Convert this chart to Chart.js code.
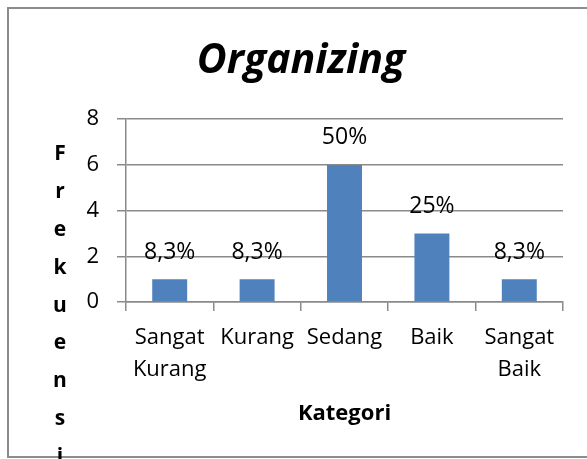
<!DOCTYPE html>
<html>
<head>
<meta charset="utf-8">
<script src="https://cdn.jsdelivr.net/npm/chart.js@4.4.1/dist/chart.umd.min.js"></script>
<style>
  html, body { margin: 0; padding: 0; background: #fff; }
  #wrap { position: relative; width: 587px; height: 459px; }
</style>
</head>
<body>
<div id="wrap"><canvas id="chart" width="587" height="459"></canvas></div>
<script>
"use strict";

// data
var categories = [['Sangat', 'Kurang'], 'Kurang', 'Sedang', 'Baik', ['Sangat', 'Baik']];
var frekuensi = [1, 1, 6, 3, 1];
var persen = ['8,3%', '8,3%', '50%', '25%', '8,3%'];
var yMin = 0, yMax = 8, yStep = 2;
var judul = 'Organizing';
var yJudul = 'Frekuensi';
var xJudul = 'Kategori';

var FONT = "'Open Sans', sans-serif";

// outer frame (left, top and bottom edge only)
var framePlugin = {
    id: 'frame',
    beforeDraw: function (chart) {
        var ctx = chart.ctx;
        ctx.save();
        ctx.strokeStyle = '#8c8c8c';
        ctx.lineWidth = 2;
        ctx.beginPath();
        ctx.moveTo(587, 8);
        ctx.lineTo(8, 8);
        ctx.lineTo(8, 457);
        ctx.lineTo(587, 457);
        ctx.stroke();
        ctx.restore();
    }
};

// value labels above the bars
var labelPlugin = {
    id: 'barLabels',
    afterDatasetsDraw: function (chart) {
        var ctx = chart.ctx;
        var meta = chart.getDatasetMeta(0);
        ctx.save();
        ctx.font = '23px ' + FONT;
        ctx.fillStyle = '#000';
        ctx.textAlign = 'center';
        ctx.textBaseline = 'middle';
        meta.data.forEach(function (bar, i) {
            ctx.fillText(persen[i], bar.x, bar.y - 27);
        });
        ctx.restore();
    }
};

// y axis title, one letter per line
var yTitlePlugin = {
    id: 'yTitle',
    afterDraw: function (chart) {
        var ctx = chart.ctx;
        ctx.save();
        ctx.font = 'bold 21px ' + FONT;
        ctx.fillStyle = '#000';
        ctx.textAlign = 'center';
        ctx.textBaseline = 'middle';
        var letters = yJudul.split('');
        for (var i = 0; i < letters.length; i++) {
            ctx.fillText(letters[i], 60, 154 + i * 37.9);
        }
        ctx.restore();
    }
};

new Chart(document.getElementById('chart'), {
    type: 'bar',
    data: {
        labels: categories,
        datasets: [{
            data: frekuensi,
            backgroundColor: '#4f81bd',
            borderWidth: 0,
            barPercentage: 0.4,
            categoryPercentage: 1
        }]
    },
    options: {
        responsive: false,
        animation: false,
        devicePixelRatio: 1,
        layout: { padding: { left: 39, right: 24, top: 10, bottom: 0 } },
        plugins: {
            legend: { display: false },
            tooltip: { enabled: false },
            title: {
                display: true,
                text: judul,
                color: '#000',
                font: { family: FONT, size: 41, weight: 'bold', style: 'italic', lineHeight: 1.2 },
                padding: { top: 27, bottom: 33 }
            }
        },
        scales: {
            x: {
                afterFit: function (scale) { scale.height = 157; },
                grid: { drawOnChartArea: false, drawTicks: true, tickLength: 9, color: '#8a8a8a', lineWidth: 1.5 },
                border: { display: true, color: '#8a8a8a', width: 1.5 },
                ticks: {
                    color: '#000',
                    padding: 11,
                    maxRotation: 0,
                    autoSkip: false,
                    font: { family: FONT, size: 22, lineHeight: 1.45 }
                },
                title: {
                    display: true,
                    text: xJudul,
                    color: '#000',
                    font: { family: FONT, size: 22, weight: 'bold', lineHeight: 1.2 },
                    padding: { top: 0, bottom: 32 }
                }
            },
            y: {
                min: yMin,
                max: yMax,
                afterFit: function (scale) { scale.width = 87; },
                grid: { drawTicks: true, tickLength: 9, color: '#8a8a8a', lineWidth: 1.5 },
                border: { display: true, color: '#8a8a8a', width: 1.5 },
                ticks: {
                    stepSize: yStep,
                    color: '#000',
                    padding: 18,
                    font: { family: FONT, size: 22 }
                }
            }
        }
    },
    plugins: [framePlugin, labelPlugin, yTitlePlugin]
});
</script>
</body>
</html>
